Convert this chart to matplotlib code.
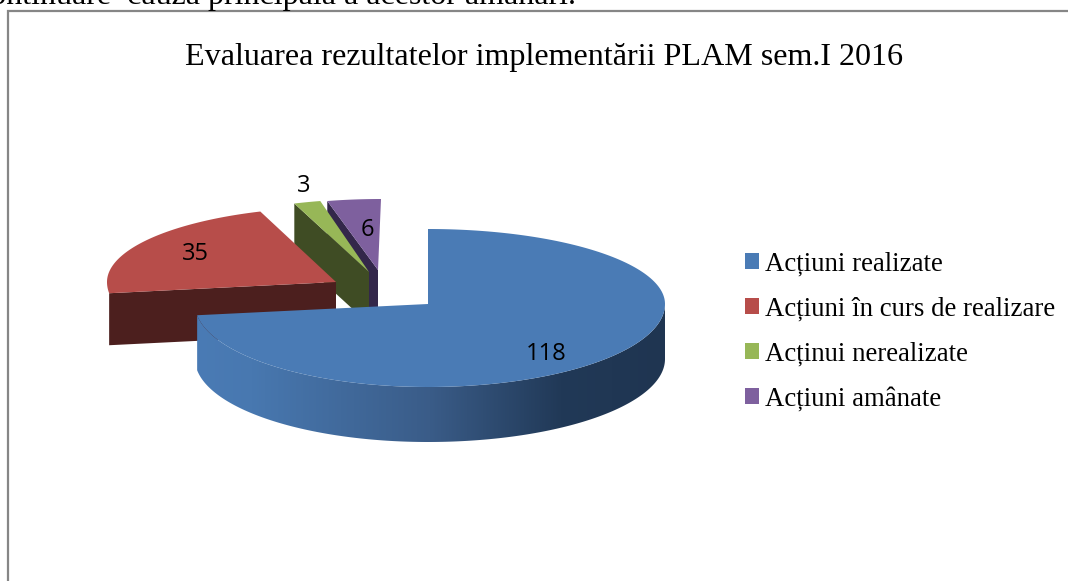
import numpy as np
import matplotlib
matplotlib.use("Agg")
import matplotlib.pyplot as plt
from matplotlib.patches import Polygon, Patch, Rectangle
from matplotlib.colors import LinearSegmentedColormap

title = "Evaluarea rezultatelor implementării PLAM sem.I 2016"
header_text = "continuare  cauza principală a acestor amânări."
categories = ["Acțiuni realizate", "Acțiuni în curs de realizare",
              "Acținui nerealizate", "Acțiuni amânate"]
values = [118, 35, 3, 6]
top_colors = ["#4A7BB5", "#B74D4A", "#97B757", "#7E609E"]
side_colors = ["#4A7BB5", "#4C1F1E", "#3F4C24", "#33274A"]

W, H = 1068, 581
# perspective ellipse: the near and right halves are a little larger
CX, CY = 428, 304
RX_RIGHT, RX_LEFT, RY_BACK, RY_FRONT, DEPTH = 237, 233, 75, 83, 55
# explosion offsets and apex nudges in pixels
offsets = [(0, 0), (-88, -22), (-54, -30), (-47, -30)]
apex_shift = [(0, 0), (-4, 0), (-5, -2), (-3, -4)]
label_pos = [(546, 354), (195, 254), (304, 186), (367, 230)]

fig = plt.figure(figsize=(W / 100, H / 100), dpi=100)
ax = fig.add_axes([0, 0, 1, 1])
ax.set_xlim(0, W)
ax.set_ylim(H, 0)
ax.axis("off")

serif = "Liberation Serif"
ax.text(576, 4, header_text, family=serif, fontsize=23, color="black",
        va="baseline", ha="right", clip_on=True)
ax.add_patch(Rectangle((8, 11), 1200, 700, fc="white", ec="#868686", lw=1.6, zorder=1))
ax.text(544.5, 58, title, family=serif, fontsize=23.1, ha="center", va="center", zorder=5)

fracs = np.array(values, dtype=float) / sum(values)
edges = np.concatenate([[0], np.cumsum(fracs)]) * 2 * np.pi


def rim(a0, a1, n=200):
    t = np.linspace(a0, a1, n)
    s, c = np.sin(t), np.cos(t)
    x = CX + s * np.where(s >= 0, RX_RIGHT, RX_LEFT)
    y = CY - c * np.where(c >= 0, RY_BACK, RY_FRONT)
    return np.column_stack([x, y])


def faces(i):
    dx, dy = offsets[i]
    arc = rim(edges[i], edges[i + 1]) + (dx, dy)
    apex = np.array([CX + dx + apex_shift[i][0], CY + dy + apex_shift[i][1]], float)
    return apex, arc


# draw back to front: purple, green, red, blue
order_z = {3: 2, 2: 3, 1: 4, 0: 5}
for i in (3, 2, 1):
    apex, arc = faces(i)
    z = order_z[i]
    start = arc[0]
    side = np.array([start, apex, apex + (0, 52), start + (0, 52)])
    ax.add_patch(Polygon(side, closed=True, fc=side_colors[i], ec="none", zorder=z))
    ax.add_patch(Polygon(np.vstack([[apex], arc]), closed=True,
                         fc=top_colors[i], ec="none", zorder=z + 0.1))

# large slice: curved wall with a horizontal gradient
apex, arc = faces(0)
front = rim(np.pi / 2, edges[1])
wall = np.vstack([front, (front + (0, DEPTH))[::-1]])
wall_patch = Polygon(wall, closed=True, fc="none", ec="none", zorder=5)
ax.add_patch(wall_patch)
cmap = LinearSegmentedColormap.from_list(
    "wall", [(0, "#4A7BB5"), (0.12, "#4878B0"), (0.5, "#3A5C88"),
             (0.78, "#213957"), (1, "#1F3551")])
grad = np.linspace(0, 1, 256)[None, :]
im = ax.imshow(grad, cmap=cmap, extent=(CX - RX_LEFT, CX + RX_RIGHT, 500, 250),
               aspect="auto", zorder=5)
im.set_clip_path(wall_patch)
ax.set_xlim(0, W)
ax.set_ylim(H, 0)
ax.add_patch(Polygon(np.vstack([[apex], arc]), closed=True,
                     fc=top_colors[0], ec="none", zorder=5.1))

for v, (x, y) in zip(values, label_pos):
    ax.text(x, y, str(v), family="Open Sans", fontsize=17, ha="center",
            va="center", color="black", zorder=6)

handles = [Patch(fc=c, ec="none") for c in top_colors]
leg = ax.legend(handles, categories, loc="upper left",
                bbox_to_anchor=(745 / W, 1 - 251.5 / H),
                prop={"family": serif, "size": 19.3}, frameon=False,
                handlelength=0.52, handleheight=0.52, handletextpad=0.22,
                labelspacing=0.75, borderpad=0, borderaxespad=0)
leg.set_zorder(6)

fig.savefig("out.png", dpi=100)
